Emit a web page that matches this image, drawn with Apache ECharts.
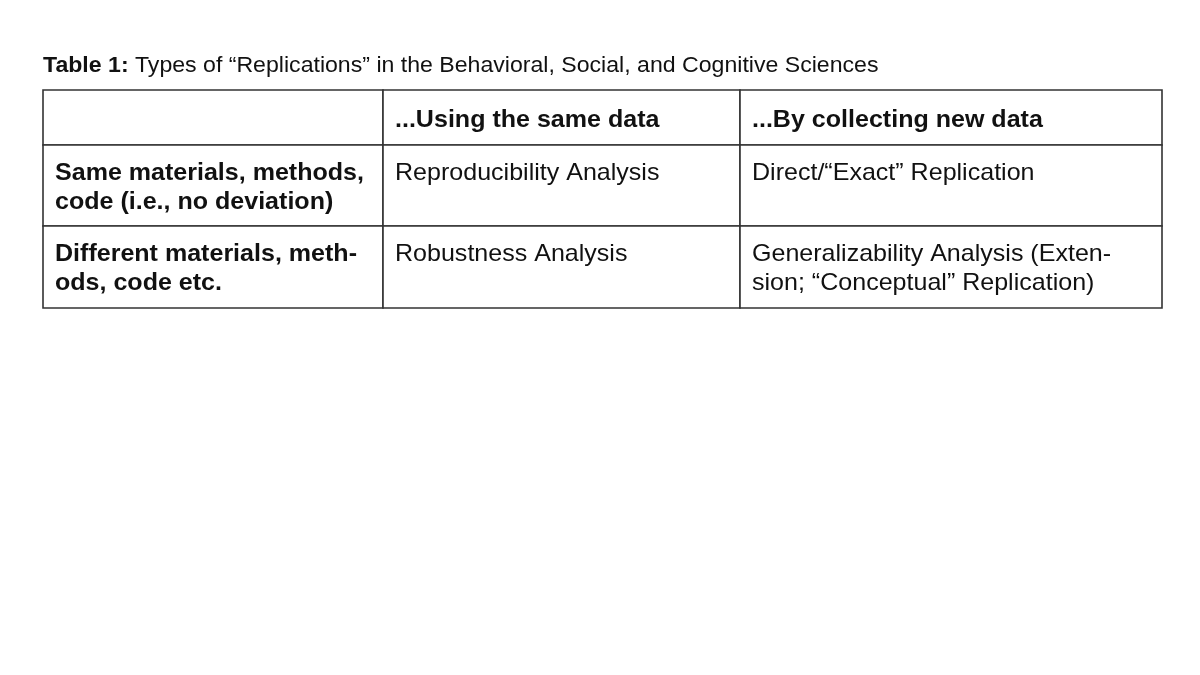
<!DOCTYPE html>
<html>
<head>
<meta charset="utf-8">
<script src="https://cdn.jsdelivr.net/npm/echarts@6/dist/echarts.min.js"></script>
<style>
  html, body { margin: 0; padding: 0; background: #fff; }
  #chart { width: 1200px; height: 675px; }
</style>
</head>
<body>
<div id="chart"></div>
<script>
// table content
const tableTitle = 'Table 1:';
const tableCaption = 'Types of “Replications” in the Behavioral, Social, and Cognitive Sciences';
const columnHeaders = ['', '...Using the same data', '...By collecting new data'];
const rowHeaders = ['Same materials, methods,\ncode (i.e., no deviation)', 'Different materials, meth-\nods, code etc.'];
const sameMethodsRow = ['Reproducibility Analysis', 'Direct/“Exact” Replication'];
const differentMethodsRow = ['Robustness Analysis', 'Generalizability Analysis (Exten-\nsion; “Conceptual” Replication)'];

// layout (axis units == pixels of the grid)
const colWidths = [340, 357, 422];
const rowHeights = [55, 81, 82];

const bodyRows = [sameMethodsRow, differentMethodsRow];
const FONT = '"Liberation Sans", Arial, sans-serif';
const STRETCH = 1.08; // the scanned page is a little wider than tall

function cellText(c, r) {
  if (r === 0) return columnHeaders[c];
  if (c === 0) return rowHeaders[r - 1];
  return bodyRows[r - 1][c - 1];
}

function sum(arr, n) {
  let s = 0;
  for (let i = 0; i < n; i++) s += arr[i];
  return s;
}

const cells = [];
for (let r = 0; r < rowHeights.length; r++) {
  for (let c = 0; c < colWidths.length; c++) {
    cells.push([c, r]);
  }
}

const myChart = echarts.init(document.getElementById('chart'), null, { renderer: 'canvas' });

function renderCell(params, api) {
  const c = api.value(0);
  const r = api.value(1);
  const p0 = api.coord([sum(colWidths, c), sum(rowHeights, r)]);
  const p1 = api.coord([sum(colWidths, c + 1), sum(rowHeights, r + 1)]);
  const bold = r === 0 || c === 0;
  const header = r === 0;
  return {
    type: 'group',
    children: [
      {
        type: 'rect',
        shape: { x: p0[0], y: p0[1], width: p1[0] - p0[0], height: p1[1] - p0[1] },
        style: { fill: '#fff', stroke: '#333', lineWidth: 1.6 }
      },
      {
        type: 'text',
        x: p0[0] + 12,
        y: header ? (p0[1] + p1[1]) / 2 + 3 : p0[1] + 14.5,
        scaleX: STRETCH,
        style: {
          text: cellText(c, r),
          x: 0,
          y: 0,
          verticalAlign: header ? 'middle' : 'top',
          fontFamily: FONT,
          fontSize: 23.2,
          fontWeight: bold ? 'bold' : 'normal',
          lineHeight: 29,
          fill: '#111'
        }
      }
    ]
  };
}

const option = {
  animation: false,
  backgroundColor: '#fff',
  graphic: [
    {
      type: 'text',
      x: 43,
      y: 66,
      scaleX: STRETCH,
      silent: true,
      style: {
        text: '{b|' + tableTitle + '} ' + tableCaption,
        verticalAlign: 'middle',
        fontFamily: FONT,
        fontSize: 21.4,
        fill: '#111',
        rich: {
          b: { fontFamily: FONT, fontSize: 21.4, fontWeight: 'bold', fill: '#111' }
        }
      }
    }
  ],
  grid: { left: 43, right: 38, top: 90, bottom: 367 },
  xAxis: { type: 'value', min: 0, max: sum(colWidths, colWidths.length), show: false },
  yAxis: { type: 'value', min: 0, max: sum(rowHeights, rowHeights.length), inverse: true, show: false },
  series: [
    {
      type: 'custom',
      renderItem: renderCell,
      data: cells,
      silent: true
    }
  ]
};
myChart.setOption(option);
window.addEventListener('resize', myChart.resize);
</script>
</body>
</html>
